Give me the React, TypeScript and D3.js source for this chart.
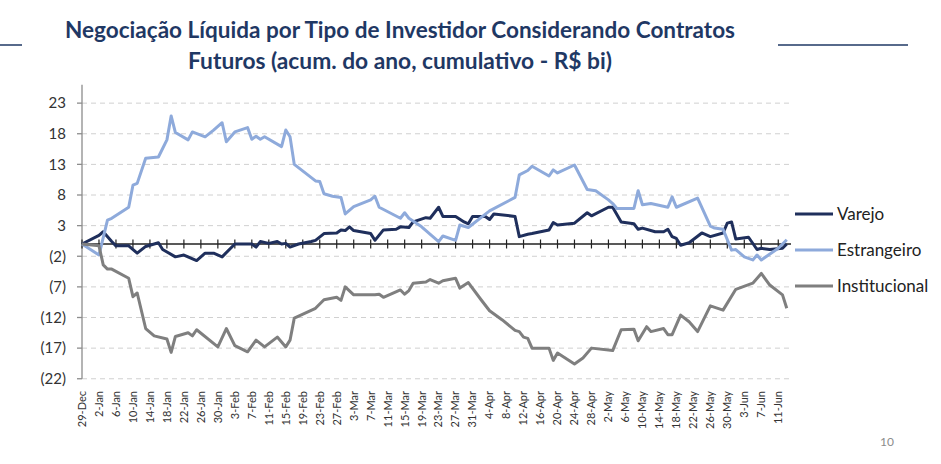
import React from "react";
import * as d3 from "d3";

// ---- Data (day offsets from 29-Dec, values in R$ bi) ----
const xTickLabels = [
  "29-Dec","2-Jan","6-Jan","10-Jan","14-Jan","18-Jan","22-Jan","26-Jan","30-Jan",
  "3-Feb","7-Feb","11-Feb","15-Feb","19-Feb","23-Feb","27-Feb","3-Mar","7-Mar",
  "11-Mar","15-Mar","19-Mar","23-Mar","27-Mar","31-Mar","4-Apr","8-Apr","12-Apr",
  "16-Apr","20-Apr","24-Apr","28-Apr","2-May","6-May","10-May","14-May","18-May",
  "22-May","26-May","30-May","3-Jun","7-Jun","11-Jun",
];
const yTickValues = [23, 18, 13, 8, 3, -2, -7, -12, -17, -22];

const varejoDays = [0,4,5,7,8,11,13,15,18,19,22,24,27,29,31,33,36,40,41,42,44,46,47,48,49,51,54,55,57,60,61,62,63,64,68,69,71,74,75,77,78,81,82,84,85,88,90,91,92,95,96,97,102,103,105,106,110,111,112,116,119,120,124,125,127,130,131,132,135,137,138,139,140,141,143,146,148,151,152,153,154,157,159,160,162,165,166];
const varejoValues = [0,1.4,2.0,0.4,-0.3,-0.3,-1.5,-0.4,0.2,-0.9,-2.1,-1.8,-2.7,-1.5,-1.5,-2.1,0.0,0.0,-0.5,0.4,0.1,0.4,0.0,0.1,-0.5,0.0,0.4,0.6,1.7,1.8,2.3,2.2,2.8,2.2,1.7,0.6,2.3,2.4,2.8,2.7,3.6,4.3,4.2,6.0,4.5,4.5,3.6,3.3,4.5,4.5,4.0,4.9,4.5,1.2,1.6,1.7,2.3,3.5,3.1,3.4,5.1,4.6,6.0,6.0,3.6,3.3,2.4,2.6,2.0,2.0,2.4,1.2,0.9,-0.2,0.2,1.8,1.2,1.8,3.4,3.6,0.8,1.1,-0.9,-0.7,-0.9,-0.7,0.0];

const estrangeiroDays = [0,4,6,7,11,12,13,15,18,20,21,22,25,26,29,31,33,34,36,39,40,41,42,43,47,48,49,50,55,56,57,59,61,62,64,68,69,70,75,76,77,80,84,85,88,89,91,96,102,103,105,106,110,111,112,116,119,121,124,125,126,130,131,132,134,138,139,140,145,148,149,151,153,154,156,158,159,160,164,165,166];
const estrangeiroValues = [0,-1.8,3.9,4.2,6.0,9.6,9.9,14.0,14.2,17.0,20.9,18.2,17.0,18.3,17.5,18.6,19.8,16.7,18.3,19.0,17.1,17.6,17.1,17.5,15.9,18.6,17.5,13.0,10.3,10.2,8.2,7.8,7.6,4.9,6.1,7.2,7.8,6.0,4.2,5.1,4.2,2.8,0.4,1.3,0.6,3.1,2.7,5.4,7.6,11.3,12.0,12.7,11.1,12.1,11.6,12.9,8.9,8.7,7.2,6.6,5.8,5.8,8.7,6.4,6.6,6.0,7.7,6.0,7.5,2.9,2.6,2.4,-1.0,-0.9,-2.1,-2.6,-1.8,-2.6,-0.7,0.0,0.7];

const institucionalDays = [0,4,5,6,7,11,12,13,15,17,20,21,22,25,26,27,32,34,36,39,41,43,46,48,49,50,55,57,60,61,62,64,69,70,71,75,76,77,78,81,82,84,85,88,89,91,94,96,99,102,103,104,105,106,110,111,112,116,118,120,125,127,130,131,133,134,137,138,139,141,143,145,148,151,154,158,160,162,165,166];
const institucionalValues = [0,-0.3,-3.4,-4.1,-4.1,-5.6,-8.6,-8.0,-13.8,-15.0,-15.5,-17.7,-15.1,-14.5,-15.0,-14.0,-16.8,-13.8,-16.6,-17.6,-15.7,-16.8,-15.2,-16.8,-15.7,-12.1,-10.5,-9.1,-8.7,-9.2,-7.0,-8.3,-8.3,-8.2,-8.7,-7.5,-8.2,-7.6,-6.4,-6.2,-5.8,-6.4,-6.0,-5.6,-7.2,-6.3,-9.1,-10.9,-12.4,-14.1,-14.3,-15.2,-15.4,-17.0,-17.0,-19.0,-17.8,-19.6,-18.6,-17.0,-17.4,-14.0,-13.9,-15.8,-13.5,-14.3,-13.8,-14.8,-14.8,-11.6,-12.7,-14.3,-10.1,-10.8,-7.4,-6.4,-4.8,-6.7,-8.3,-10.5];

const seriesNames = ["Varejo", "Estrangeiro", "Institucional"];
const seriesColors = ["#1f2f5c", "#8eaadb", "#7f7f7f"];

const titleLines = [
  "Negociação Líquida por Tipo de Investidor Considerando Contratos",
  "Futuros (acum. do ano, cumulativo - R$ bi)",
];

export default function App() {
  const W = 941, H = 464;
  const x = d3.scaleLinear().domain([0, 167]).range([82, 791]);
  const y = d3.scaleLinear().domain([-22, 26]).range([378.75, 84.75]);

  const series = [
    { days: varejoDays, vals: varejoValues },
    { days: estrangeiroDays, vals: estrangeiroValues },
    { days: institucionalDays, vals: institucionalValues },
  ];
  const line = d3
    .line<[number, number]>()
    .x((d) => x(d[0]))
    .y((d) => y(d[1]));

  const tickDays = xTickLabels.map((_, i) => i * 4);
  const font = "Lato, 'Open Sans', sans-serif";

  return (
    <svg width={W} height={H} style={{ position: "absolute", left: 0, top: 0, background: "#fff" }}>
      {/* title */}
      <line x1={0} x2={22} y1={45} y2={45} stroke="#1f3864" strokeWidth={1.5} />
      <line x1={778} x2={908} y1={45} y2={45} stroke="#1f3864" strokeWidth={1.5} />
      <text x={400} y={38} textAnchor="middle" fontFamily={font} fontWeight={700} fontSize={22}
        fill="#1f3864" textLength={670} lengthAdjust="spacingAndGlyphs">{titleLines[0]}</text>
      <text x={400} y={69} textAnchor="middle" fontFamily={font} fontWeight={700} fontSize={22}
        fill="#1f3864" textLength={424} lengthAdjust="spacingAndGlyphs">{titleLines[1]}</text>

      {/* gridlines */}
      {yTickValues.map((v) => (
        <line key={"g" + v} x1={x(0)} x2={x(167)} y1={y(v)} y2={y(v)}
          stroke="#d0d0d0" strokeWidth={1} strokeDasharray="5,4" />
      ))}

      {/* y axis */}
      <line x1={x(0)} x2={x(0)} y1={y(26)} y2={y(-22)} stroke="#8c8c8c" strokeWidth={1.3} />
      {yTickValues.map((v) => (
        <g key={"yt" + v}>
          <line x1={x(0) - 5} x2={x(0)} y1={y(v)} y2={y(v)} stroke="#8c8c8c" strokeWidth={1.3} />
          <text x={x(0) - 16} y={y(v)} dy="0.35em" textAnchor="end" fontFamily={font}
            fontSize={15} fill="#333">{v < 0 ? `(${-v})` : `${v}`}</text>
        </g>
      ))}

      {/* zero line with ticks */}
      <line x1={x(0)} x2={x(167)} y1={y(0)} y2={y(0)} stroke="#222" strokeWidth={1.5} />
      {tickDays.map((d) => (
        <line key={"xt" + d} x1={x(d)} x2={x(d)} y1={y(0) - 4.5} y2={y(0) + 4.5} stroke="#222" strokeWidth={1.2} />
      ))}

      {/* x tick labels */}
      {xTickLabels.map((lab, i) => (
        <text key={"xl" + i} transform={`translate(${x(tickDays[i])},391) rotate(-90)`}
          textAnchor="end" dy="0.35em" fontFamily={font} fontSize={11} fill="#333">{lab}</text>
      ))}

      {/* series lines */}
      {series.map((s, i) => (
        <path key={"s" + i}
          d={line(s.days.map((dd, j) => [dd, s.vals[j]] as [number, number])) || ""}
          fill="none" stroke={seriesColors[i]} strokeWidth={3} strokeLinejoin="round" />
      ))}

      {/* legend */}
      {seriesNames.map((n, i) => {
        const ly = [214, 250, 286][i];
        return (
          <g key={"lg" + i}>
            <line x1={795} x2={833} y1={ly} y2={ly} stroke={seriesColors[i]} strokeWidth={3} />
            <text x={837} y={ly} dy="0.35em" fontFamily={font} fontSize={17} fill="#222">{n}</text>
          </g>
        );
      })}

      <text x={887} y={446} textAnchor="middle" fontFamily={font} fontSize={12} fill="#8c8c8c">10</text>
    </svg>
  );
}
